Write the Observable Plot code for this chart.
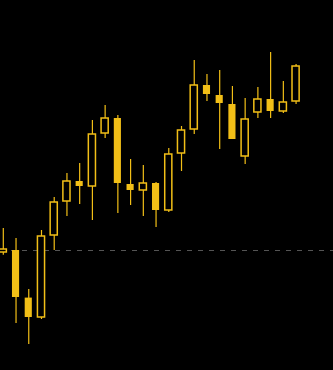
<!DOCTYPE html>
<html><head><meta charset="utf-8">
<script src="https://cdn.jsdelivr.net/npm/d3@7"></script>
<script src="https://cdn.jsdelivr.net/npm/@observablehq/plot@0.6"></script>
<style>html,body{margin:0;padding:0;background:#000;overflow:hidden}</style>
</head><body><div id="chart"></div>
<script>
const opens  = [99.90, 100.00, 97.62, 96.65, 100.75, 102.45, 103.45, 103.20, 105.85, 106.60, 103.30, 103.00, 103.35, 102.00, 104.85, 106.05, 108.25, 107.75, 107.30, 104.70, 106.90, 107.55, 106.95, 107.45];
const closes = [100.05, 97.65, 96.65, 100.70, 102.40, 103.45, 103.20, 105.80, 106.60, 103.35, 103.00, 103.35, 102.00, 104.80, 106.00, 108.25, 107.80, 107.35, 105.55, 106.55, 107.55, 106.95, 107.40, 109.20];
const highs  = [101.10, 100.60, 98.05, 101.00, 102.65, 103.85, 104.35, 106.50, 107.25, 106.75, 104.55, 104.25, 103.40, 105.10, 106.20, 109.50, 108.80, 109.00, 108.20, 107.60, 108.15, 109.90, 108.45, 109.30];
const lows   = [99.76, 96.35, 95.30, 96.55, 100.00, 101.70, 102.30, 101.50, 105.60, 101.85, 102.25, 101.70, 101.15, 101.90, 103.95, 105.80, 107.45, 105.05, 105.55, 104.30, 106.60, 106.60, 106.85, 107.30];
const referencePrice = 100;

const data = opens.map((o, i) => ({i, open: o, close: closes[i], high: highs[i], low: lows[i], up: closes[i] >= o}));
const gold = "#f2bf17";
const half = 0.28;

const plot = Plot.plot({
  width: 333, height: 370, margin: 0,
  style: {background: "#000"},
  x: {domain: [-0.22, 25.94], axis: null},
  y: {domain: [94, 112.5], axis: null},
  marks: [
    Plot.ruleY([referencePrice], {stroke: "#555", strokeDasharray: "5,6", strokeWidth: 1}),
    Plot.ruleX(data, {x: "i", y1: "low", y2: "high", stroke: gold, strokeWidth: 1.2}),
    Plot.rect(data.filter(d => !d.up), {x1: d => d.i - half, x2: d => d.i + half, y1: "open", y2: "close", fill: gold}),
    Plot.rect(data.filter(d => d.up), {x1: d => d.i - half, x2: d => d.i + half, y1: "open", y2: "close", fill: "#000", stroke: gold, strokeWidth: 1.5})
  ]
});
document.getElementById("chart").append(plot);
</script>
</body></html>
